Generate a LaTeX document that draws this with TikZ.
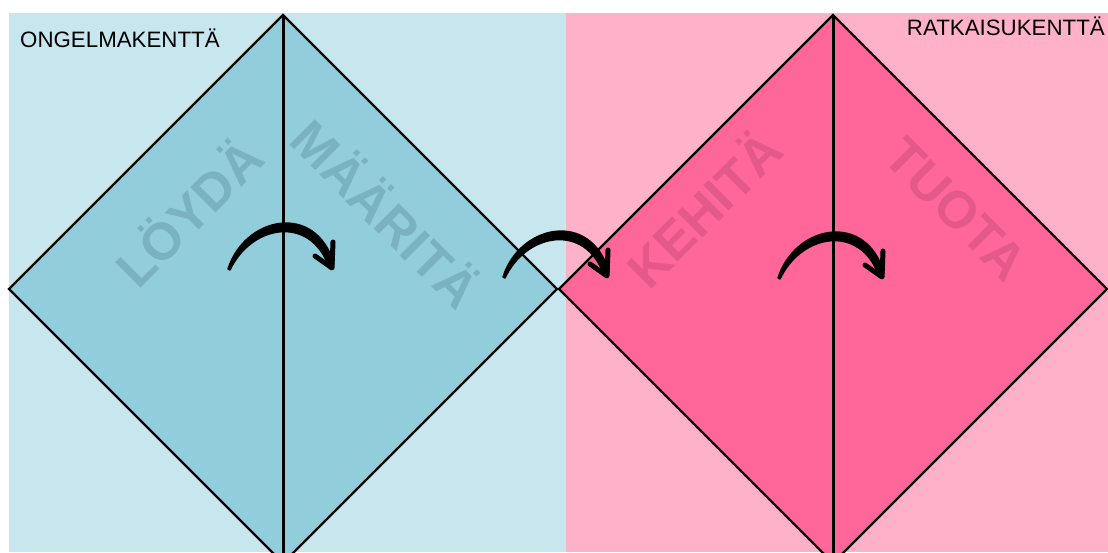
\documentclass[tikz,border=0pt]{standalone}
\usepackage{fontspec}
\setmainfont{Liberation Sans}
\usetikzlibrary{positioning,arrows.meta,calc}
\definecolor{probbg}{HTML}{C8E6EE}
\definecolor{probfill}{HTML}{92CDDB}
\definecolor{probtext}{HTML}{7AB2C2}
\definecolor{solbg}{HTML}{FFB1C9}
\definecolor{solfill}{HTML}{FF6699}
\definecolor{soltext}{HTML}{E2598A}
\tikzset{field label/.style={font=\fontsize{22.3}{25}\selectfont,inner sep=0pt},
phase text/.style={font=\fontsize{52}{52}\selectfont\bfseries,inner sep=0pt},
edge line/.style={line width=2.3pt,line join=miter},
mid line/.style={line width=3pt},
turn body/.style={fill=black,draw=black,line width=1.5pt,line join=round},
turn head/.style={line width=5pt,line cap=round,line join=round}}
\begin{document}
\begin{tikzpicture}[x=1pt,y=-1pt]
\useasboundingbox (0,0) rectangle (1108,552);
\clip (0,0) rectangle (1108,552);
% backgrounds
\fill[probbg] (9,13) rectangle (566,552);
\fill[solbg] (566,13) rectangle (1108,552);
% diamonds
\coordinate (p) at (283,289);
\coordinate (s) at (833,289);
\fill[probfill] ($(p)+(0,-274)$) -- ($(p)+(274,0)$) -- ($(p)+(0,274)$) -- ($(p)+(-274,0)$) -- cycle;
\fill[solfill] ($(s)+(0,-274)$) -- ($(s)+(274,0)$) -- ($(s)+(0,274)$) -- ($(s)+(-274,0)$) -- cycle;
\node[phase text,text=probtext,rotate=45] (loyda) at (187,211) {LÖYDÄ};
\node[phase text,text=probtext,rotate=-45] (maarita) at (388,212) {MÄÄRITÄ};
\node[phase text,text=soltext,rotate=45] (kehita) at (702,207) {KEHITÄ};
\node[phase text,text=soltext,rotate=-45] (tuota) at (956,209) {TUOTA};
\draw[edge line] ($(p)+(0,-274)$) -- ($(p)+(274,0)$) -- ($(p)+(0,274)$) -- ($(p)+(-274,0)$) -- cycle;
\draw[edge line] ($(s)+(0,-274)$) -- ($(s)+(274,0)$) -- ($(s)+(0,274)$) -- ($(s)+(-274,0)$) -- cycle;
\draw[mid line] ($(p)+(0,-274)$) -- ($(p)+(0,274)$);
\draw[mid line] ($(s)+(0,-274)$) -- ($(s)+(0,274)$);
% field labels
\node[field label,anchor=base west] (prob) at (20,47) {ONGELMAKENTTÄ};
\node[field label,anchor=base east] (sol) at (1105,35) {RATKAISUKENTTÄ};
% arrows
\foreach \sx/\sy in {229/269,504/277,779/278}{
\begin{scope}[shift={(\sx,\sy)}]
\filldraw[turn body] (-1,0) .. controls (16,-53) and (87,-67) .. (105,-5)
  -- (100,-2) .. controls (81,-55) and (22,-44) .. (1,1) -- cycle;
\draw[turn head] (86,-13) -- (103,-1) -- (104,-27);
\end{scope}}
\end{tikzpicture}
\end{document}
